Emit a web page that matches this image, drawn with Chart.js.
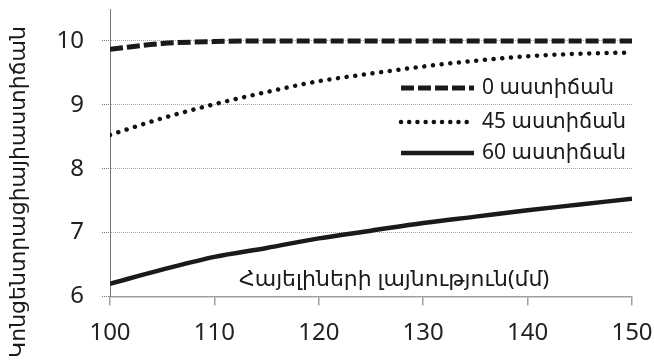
<!DOCTYPE html>
<html>
<head>
<meta charset="utf-8">
<script src="https://cdn.jsdelivr.net/npm/chart.js@4/dist/chart.umd.min.js"></script>
<style>
  body { margin: 0; background: #fff; }
  #wrap { width: 654px; height: 361px; }
</style>
</head>
<body>
<div id="wrap"><canvas id="chart"></canvas></div>
<script>
const widths = [100, 105, 110, 115, 120, 125, 130, 135, 140, 145, 150]
const deg0 = [9.87, 9.96, 9.99, 10, 10, 10, 10, 10, 10, 10, 10]
const deg45 = [8.53, 8.79, 9.01, 9.2, 9.37, 9.49, 9.6, 9.69, 9.76, 9.8, 9.82]
const deg60 = [6.2, 6.42, 6.62, 6.76, 6.91, 7.03, 7.15, 7.25, 7.35, 7.44, 7.53]
const yTicks = [6, 7, 8, 9, 10]
const seriesNames = ['0 աստիճան', '45 աստիճան', '60 աստիճան']
const xTitle = 'Հայելիների լայնություն(մմ)'
const yTitle = 'Կոնցենտրացիայիաստիճան'

const font = "'Noto Sans', 'DejaVu Sans', sans-serif"
const ink = '#1a1a1a'

const toPoints = vals => vals.map((v, i) => ({ x: widths[i], y: v }))

// titles and legend are placed by hand, the way the original has them
const insideText = {
  id: 'insideText',
  afterDatasetsDraw(chart) {
    const ctx = chart.ctx
    ctx.save()
    ctx.fillStyle = ink
    ctx.textBaseline = 'middle'
    ctx.font = '22px ' + font
    ctx.textAlign = 'center'
    ctx.fillText(xTitle, 394, 280)

    ctx.save()
    ctx.translate(19, 192)
    ctx.rotate(-Math.PI / 2)
    ctx.fillText(yTitle, 0, 0)
    ctx.restore()

    const rows = [88, 122, 153]
    ctx.font = '21px ' + font
    ctx.textAlign = 'left'
    chart.data.datasets.forEach((ds, i) => {
      const y = rows[i]
      ctx.beginPath()
      ctx.strokeStyle = ds.borderColor
      ctx.lineWidth = ds.borderWidth
      ctx.lineCap = ds.borderCapStyle || 'butt'
      ctx.setLineDash(ds.legendDash || [])
      ctx.moveTo(401, y)
      ctx.lineTo(474, y)
      ctx.stroke()
      ctx.setLineDash([])
      ctx.fillText(ds.label, 482, y)
    })
    ctx.restore()
  }
}

new Chart(document.getElementById('chart'), {
  type: 'line',
  data: {
    datasets: [
      {
        label: seriesNames[0],
        data: toPoints(deg0),
        borderColor: ink,
        borderWidth: 5,
        borderDash: [13, 4],
        legendDash: [13, 4],
        pointRadius: 0,
        cubicInterpolationMode: 'monotone'
      },
      {
        label: seriesNames[1],
        data: toPoints(deg45),
        borderColor: '#111',
        borderWidth: 4.5,
        borderDash: [0.01, 8.7],
        legendDash: [0.01, 8.2],
        borderCapStyle: 'round',
        pointRadius: 0,
        cubicInterpolationMode: 'monotone'
      },
      {
        label: seriesNames[2],
        data: toPoints(deg60),
        borderColor: ink,
        borderWidth: 4.5,
        pointRadius: 0,
        cubicInterpolationMode: 'monotone'
      }
    ]
  },
  options: {
    responsive: true,
    maintainAspectRatio: false,
    animation: false,
    layout: { padding: { top: 9, right: 22, left: 0, bottom: 0 } },
    plugins: {
      legend: { display: false },
      tooltip: { enabled: false }
    },
    scales: {
      x: {
        type: 'linear',
        min: 100,
        max: 150,
        afterFit: scale => {
          scale.height = 64.5
          scale.paddingLeft = 0
          scale.paddingRight = 0
        },
        ticks: { stepSize: 10, padding: 13, color: '#222', font: { family: font, size: 24 } },
        grid: { drawOnChartArea: false, drawTicks: true, tickLength: 9, color: '#a0a0a0', lineWidth: 1.5 },
        border: { color: '#a0a0a0', width: 1.5 }
      },
      y: {
        min: 6,
        max: 10.5,
        afterFit: scale => {
          scale.width = 110
          scale.paddingTop = 0
          scale.paddingBottom = 0
        },
        afterBuildTicks: scale => { scale.ticks = yTicks.map(v => ({ value: v })) },
        ticks: { padding: 18, color: '#222', font: { family: font, size: 24 } },
        grid: { color: '#a6a6a6', borderDash: [3, 2], tickLength: 8, tickBorderDash: [1, 1], tickColor: '#777' },
        border: { display: true, color: '#777', width: 1, dash: [1, 1] }
      }
    }
  },
  plugins: [insideText]
})
</script>
</body>
</html>
